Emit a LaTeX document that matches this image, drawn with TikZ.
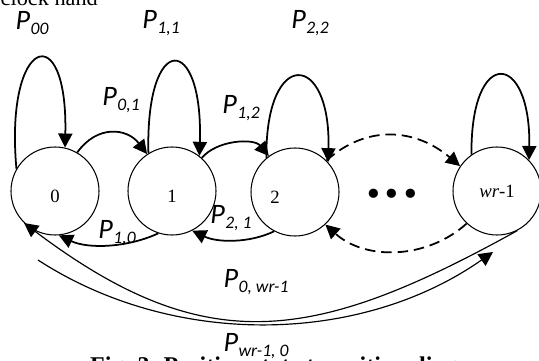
\documentclass[tikz,border=0pt]{standalone}
\usepackage{fontspec}
\setmainfont{Liberation Serif}
\newfontfamily\lblfont{Carlito}
\newfontfamily\dotfont{DejaVu Sans}
\usetikzlibrary{arrows.meta,calc}

% P with a lowered index, as in the labels of the figure
\newcommand{\psub}[1]{P\kern0.5pt\raisebox{-0.4ex}{\fontsize{15}{16}\selectfont #1}}

\begin{document}
\begin{tikzpicture}[
      x=0.03cm, y=0.03cm, >={Triangle[length=12pt,width=12pt]},
      state/.style={draw, circle, line width=0.9pt, minimum size=2.64cm,
                    inner sep=0pt, font=\fontsize{16}{18}\selectfont,
                    text height=20pt},
      tr/.style={->, line width=1.5pt},
      trd/.style={tr, dash pattern=on 9pt off 5pt},
      trl/.style={->, line width=1pt},
      lab/.style={font=\lblfont\itshape\fontsize{24}{26}\selectfont, inner sep=0pt}
    ]
    \useasboundingbox (0,0) rectangle (539,360);
    \clip (0,0) rectangle (539,360);
    % states
    \node[state] (s0) at (55,169)  {0};
    \node[state] (s1) at (172,169) {1};
    \node[state] (s2) at (295,168) {\llap{2\hspace{13pt}}};
    \node[state, text height=] (sn) at (497,169) {\textit{wr}-1};
    \node[font=\dotfont\fontsize{27}{28}\selectfont, inner sep=0pt] (dots) at (392,163) {•••};
    % self loops
    \draw[tr] (s0.150) .. controls +(-12,132) and +(3,132) .. (s0.77);
    \draw[tr] (s1.122) .. controls +(-3,123) and +(4,123) .. (s1.52);
    \draw[tr] (s2.130) .. controls +(-1,111) and +(3,111) .. (s2.42);
    \draw[tr] (sn.125) .. controls +(-1,109) and +(2,109) .. (sn.44);
    % forward
    \draw[tr] (s0.60) .. controls +(20,28) and +(-20,26) .. (s1.124);
    \draw[tr] (s1.48) .. controls +(15,18) and +(-15,18) .. (s2.126);
    \draw[trd] (s2.45) .. controls +(40,36) and +(-45,38) .. (sn.146);
    % backward
    \draw[tr] (s1.252) .. controls +(-30,-14) and +(30,-14) .. (s0.275);
    \draw[tr] (s2.242) .. controls +(-25,-12) and +(25,-12) .. (s1.297);
    \draw[trd] (sn.227) .. controls +(-40,-36) and +(40,-36) .. (s2.313);
    % wrap around
    \coordinate (w0) at (38,100);
    \coordinate (wn) at (493,108);
    \draw[trl] (w0) .. controls +(327:162) and +(215:162) .. (wn);
    \draw[trl] (sn.297) .. controls +(209:232) and +(323:228) .. (s0.226);
    % labels
    \node[lab] (l00) at (32,337)  {\psub{00}};
    \node[lab] (l11) at (161,337) {\psub{1,1}};
    \node[lab] (l22) at (310,337) {\psub{2,2}};
    \node[lab] (l01) at (121,260) {\psub{0,1}};
    \node[lab] (l12) at (241,252) {\psub{1,2}};
    \node[lab] (l10) at (117,127) {\psub{1,0}};
    \node[lab] (l21) at (231,142) {\psub{2, 1}};
    \node[lab] (l0n) at (256,78)  {\psub{0, wr-1}};
    \node[lab] (ln0) at (256,14)  {\psub{wr-1, 0}};
    % text of the page round the figure
    \node[anchor=base east, inner sep=0pt, font=\fontsize{19}{20}\selectfont] (top) at (98,354) {clock hand};
    \node[anchor=base west, inner sep=0pt, font=\bfseries\fontsize{20.5}{22}\selectfont] (cap) at (90,-13)
      {Fig. 3. Position state transition diagram};
  \end{tikzpicture}
\end{document}
